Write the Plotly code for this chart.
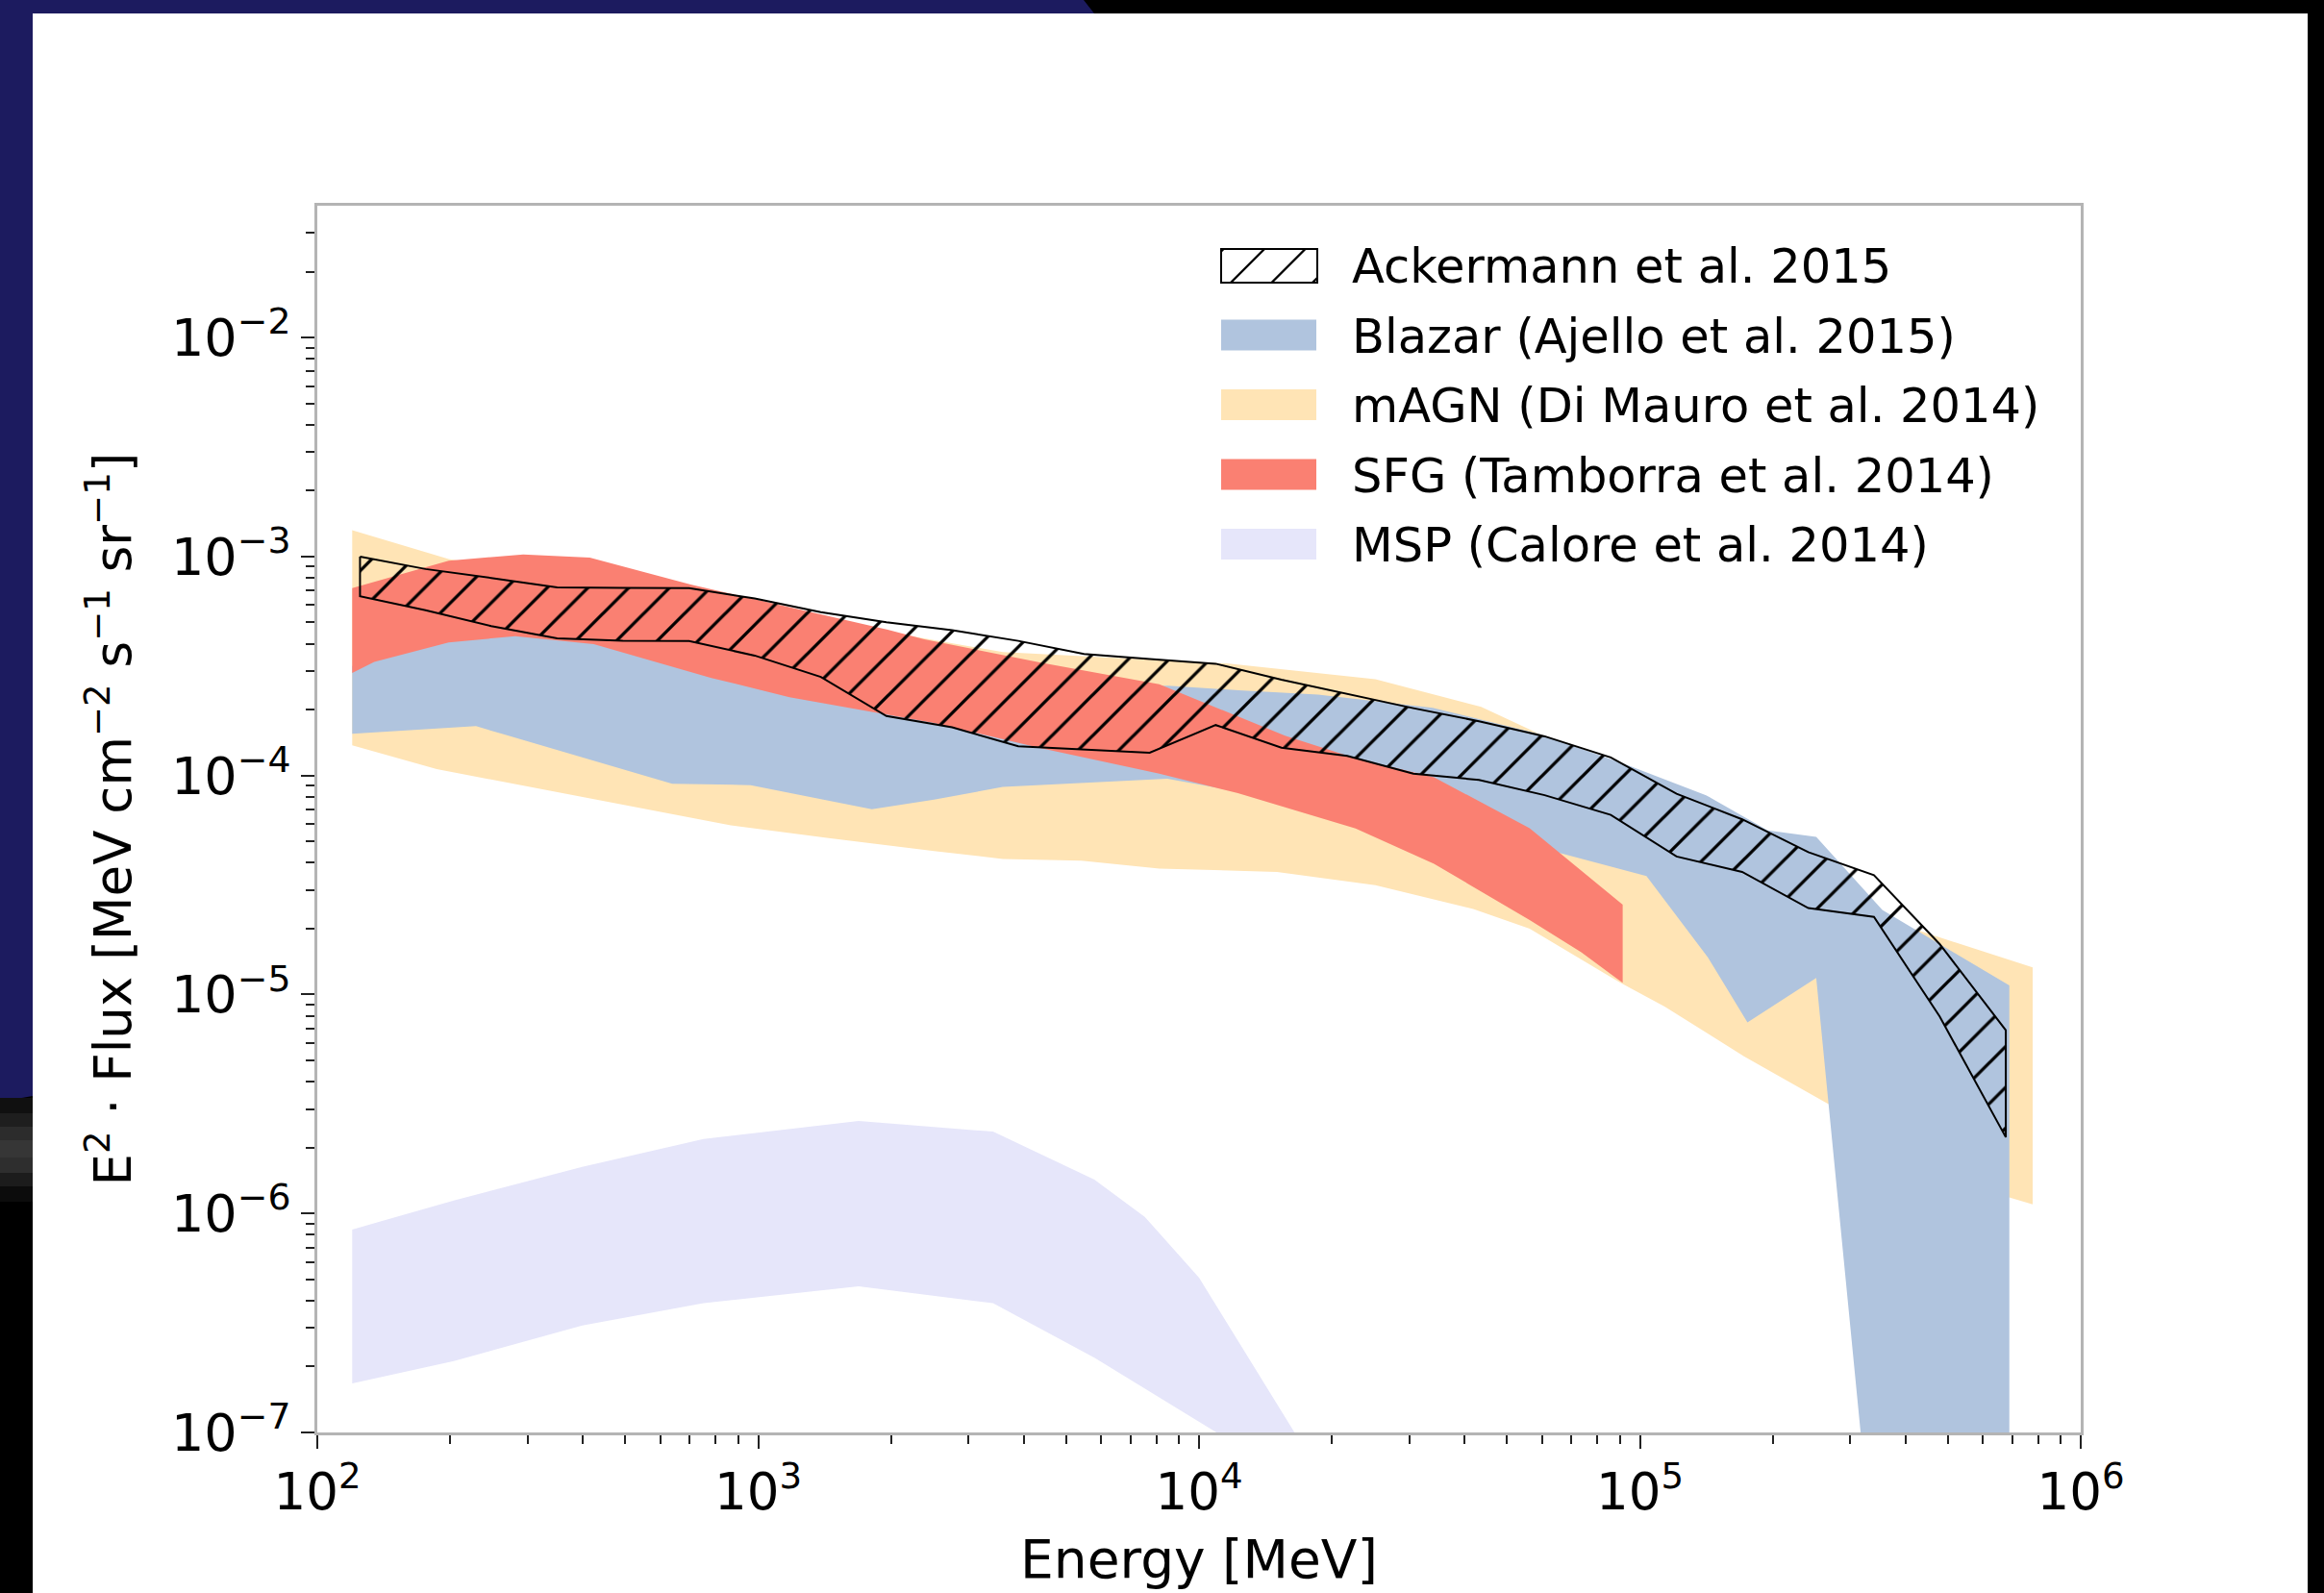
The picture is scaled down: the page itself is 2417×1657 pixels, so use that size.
import plotly.graph_objects as go

# ---------------------------------------------------------------
# Extragalactic gamma-ray background: measured band + source models
# energies in MeV, E^2 * flux in MeV cm^-2 s^-1 sr^-1
# ---------------------------------------------------------------

# Ackermann et al. 2015 (total EGB band, 26 energy bins)
ack_energy = [125, 176, 248, 350, 493, 697, 982, 1387, 1954, 2754, 3890, 5483, 7727,
              10910, 15380, 21680, 30620, 43150, 60810, 85900, 121100, 170600, 241000,
              339600, 478600, 676100]
ack_upper = [1.00e-3, 8.77e-4, 7.98e-4, 7.23e-4, 7.19e-4, 7.18e-4, 6.43e-4, 5.57e-4, 5.01e-4,
             4.61e-4, 4.12e-4, 3.59e-4, 3.40e-4, 3.24e-4, 2.74e-4, 2.36e-4, 2.03e-4, 1.77e-4,
             1.51e-4, 1.21e-4, 8.26e-5, 6.31e-5, 4.47e-5, 3.51e-5, 1.70e-5, 6.87e-6]
ack_lower = [6.59e-4, 5.69e-4, 4.81e-4, 4.23e-4, 4.12e-4, 4.11e-4, 3.53e-4, 2.82e-4, 1.87e-4,
             1.66e-4, 1.36e-4, 1.31e-4, 1.27e-4, 1.70e-4, 1.34e-4, 1.23e-4, 1.02e-4, 9.55e-5,
             8.13e-5, 6.61e-5, 4.27e-5, 3.63e-5, 2.48e-5, 2.26e-5, 7.94e-6, 2.23e-6]

# Blazars (Ajello et al. 2015)
blazar_e_upper = [120, 199.5, 281.8, 426.6, 776.2, 1175, 2512, 8511, 12300, 18620, 33880,
                  58880, 93330, 141300, 195000, 251200, 354800, 467700, 688700]
blazar_upper = [3.16e-4, 4.37e-4, 4.68e-4, 4.27e-4, 3.16e-4, 2.63e-4, 2.40e-4, 2.57e-4, 2.45e-4,
                2.34e-4, 2.04e-4, 1.55e-4, 1.12e-4, 8.13e-5, 5.62e-5, 5.25e-5, 2.43e-5,
                1.75e-5, 1.10e-5]
blazar_e_lower = [120, 229.1, 638.3, 961.6, 1811, 2506, 3589, 8472, 53460, 103500, 142600,
                  175400, 251200, 335000, 688700]
blazar_lower = [1.55e-4, 1.68e-4, 9.18e-5, 9.04e-5, 7.01e-5, 7.76e-5, 8.87e-5, 9.66e-5, 4.95e-5,
                3.47e-5, 1.48e-5, 7.46e-6, 1.19e-5, 3.16e-8, 3.16e-8]

# Misaligned AGN (Di Mauro et al. 2014)
magn_e_upper = [120, 198.6, 871, 2512, 3589, 11540, 25120, 43650, 59020, 100000, 158500,
                281800, 363100, 467700, 778000]
magn_upper = [1.318e-3, 9.73e-4, 6.03e-4, 4.17e-4, 3.66e-4, 3.25e-4, 2.75e-4, 2.06e-4, 1.55e-4,
              1.05e-4, 6.31e-5, 2.82e-5, 2.19e-5, 1.85e-5, 1.33e-5]
magn_e_lower = [120, 186.6, 867, 1445, 2506, 3589, 5408, 8128, 15030, 25120, 41880, 56230,
                90570, 113800, 172200, 265500, 682300, 778000]
magn_lower = [1.374e-4, 1.069e-4, 5.92e-5, 5.18e-5, 4.52e-5, 4.16e-5, 4.08e-5, 3.76e-5, 3.63e-5,
              3.16e-5, 2.46e-5, 2.00e-5, 1.127e-5, 8.81e-6, 5.22e-6, 3.19e-6, 1.19e-6, 1.10e-6]

# Star-forming galaxies (Tamborra et al. 2014)
sfg_e_upper = [120, 198.6, 293.1, 415.0, 706.3, 1968, 2382, 4406, 8128, 11750, 15670, 22650,
               34120, 56230, 91410]
sfg_upper = [7.18e-4, 9.57e-4, 1.023e-3, 9.89e-4, 7.43e-4, 4.63e-4, 4.19e-4, 3.27e-4, 2.61e-4,
             1.93e-4, 1.52e-4, 1.20e-4, 9.82e-5, 5.75e-5, 2.57e-5]
sfg_e_lower = [120, 134.6, 198.6, 281.2, 423.6, 783.4, 1178, 2506, 4406, 8128, 12250, 22650,
               34120, 56230, 73620, 91410]
sfg_lower = [2.94e-4, 3.30e-4, 4.05e-4, 4.33e-4, 3.98e-4, 2.79e-4, 2.28e-4, 1.74e-4, 1.33e-4,
             1.02e-4, 8.30e-5, 5.73e-5, 3.95e-5, 2.19e-5, 1.56e-5, 1.13e-5]

# Millisecond pulsars (Calore et al. 2014)
msp_energy = [120, 204, 399, 752, 1690, 3410, 5790, 7530, 10000, 17800]
msp_upper = [8.45e-7, 1.146e-6, 1.633e-6, 2.188e-6, 2.642e-6, 2.366e-6, 1.426e-6, 9.66e-7,
             5.09e-7, 7.76e-8]
msp_lower = [1.675e-7, 2.118e-7, 3.076e-7, 3.890e-7, 4.645e-7, 3.890e-7, 2.193e-7, 1.585e-7,
             1.117e-7, 5.50e-8]

# axis ticks
x_tick_vals = [1e2, 1e3, 1e4, 1e5, 1e6]
x_tick_text = ["10<sup>2</sup>", "10<sup>3</sup>", "10<sup>4</sup>", "10<sup>5</sup>", "10<sup>6</sup>"]
y_tick_vals = [1e-7, 1e-6, 1e-5, 1e-4, 1e-3, 1e-2]
y_tick_text = ["10<sup>−7</sup>", "10<sup>−6</sup>", "10<sup>−5</sup>", "10<sup>−4</sup>",
               "10<sup>−3</sup>", "10<sup>−2</sup>"]

# ---------------------------------------------------------------
BLUE = "#B0C4DE"      # lightsteelblue
ORANGE = "#FFE4B5"    # moccasin
RED = "#FA8072"       # salmon
LAVENDER = "#E6E6FA"  # lavender
FONT = "DejaVu Sans"

W, H = 2417, 1657
L, R, T, B = 330, 2164, 214, 1490     # plot frame in pixels
PW, PH = R - L, B - T


def px(X):
    return (X - L) / PW


def py(Y):
    return (B - Y) / PH


def band(e_up, up, e_lo, lo):
    """closed polygon: upper edge left->right, lower edge right->left"""
    return list(e_up) + list(e_lo)[::-1], list(up) + list(lo)[::-1]


fig = go.Figure()


def add_band(e_up, up, e_lo, lo, color, name):
    xs, ys = band(e_up, up, e_lo, lo)
    fig.add_trace(go.Scatter(x=xs, y=ys, mode="lines", fill="toself", fillcolor=color,
                             line=dict(width=0, color=color), name=name,
                             showlegend=False, hoverinfo="skip"))


add_band(magn_e_upper, magn_upper, magn_e_lower, magn_lower, ORANGE, "mAGN (Di Mauro et al. 2014)")
add_band(blazar_e_upper, blazar_upper, blazar_e_lower, blazar_lower, BLUE, "Blazar (Ajello et al. 2015)")
add_band(sfg_e_upper, sfg_upper, sfg_e_lower, sfg_lower, RED, "SFG (Tamborra et al. 2014)")
add_band(msp_energy, msp_upper, msp_energy, msp_lower, LAVENDER, "MSP (Calore et al. 2014)")

# hatched measurement band on top
xs, ys = band(ack_energy, ack_upper, ack_energy, ack_lower)
xs.append(xs[0])
ys.append(ys[0])
fig.add_trace(go.Scatter(
    x=xs, y=ys, mode="lines", fill="toself", fillcolor="rgba(0,0,0,0)",
    fillpattern=dict(shape="/", fgcolor="black", bgcolor="rgba(0,0,0,0)",
                     size=30, solidity=0.11, fillmode="replace"),
    line=dict(color="black", width=2), name="Ackermann et al. 2015",
    showlegend=False, hoverinfo="skip"))

# ---------------- slide background ----------------
shapes = []
# white panel
shapes.append(dict(type="rect", xref="paper", yref="paper", layer="below",
                   x0=px(34), x1=px(2400), y0=py(H + 5), y1=py(14),
                   fillcolor="white", line=dict(width=0)))
# navy band along the top and down the left side
navy = "#1c1b5f"
shapes.append(dict(type="path", xref="paper", yref="paper", layer="below",
                   path=(f"M{px(0)},{py(0)} L{px(1127)},{py(0)} L{px(1138)},{py(14)} "
                         f"L{px(34)},{py(14)} L{px(34)},{py(1140)} L{px(0)},{py(1146)} Z"),
                   fillcolor=navy, line=dict(width=0)))
for y0, y1, c in [(1142, 1158, "#101010"), (1158, 1172, "#1e1e1e"), (1172, 1186, "#2c2c2c"),
                  (1186, 1204, "#363636"), (1204, 1220, "#2e2e2e"), (1220, 1234, "#1c1c1c"),
                  (1234, 1250, "#0c0c0c")]:
    shapes.append(dict(type="rect", xref="paper", yref="paper", layer="below",
                       x0=px(0), x1=px(34), y0=py(y1), y1=py(y0),
                       fillcolor=c, line=dict(width=0)))

# ---------------- legend (drawn) ----------------
legend_rows = [
    ("Ackermann et al. 2015", None),
    ("Blazar (Ajello et al. 2015)", BLUE),
    ("mAGN (Di Mauro et al. 2014)", ORANGE),
    ("SFG (Tamborra et al. 2014)", RED),
    ("MSP (Calore et al. 2014)", LAVENDER),
]
row_y0, row_step = 276, 72.5
sw_x0, sw_x1 = 1270, 1369
text_x = 1404
annotations = []
for i, (label, color) in enumerate(legend_rows):
    cy = row_y0 + i * row_step
    if color is None:
        bx0, bx1, by0, by1 = sw_x0, sw_x1 + 1, cy - 17, cy + 18
        shapes.append(dict(type="rect", xref="paper", yref="paper",
                           x0=px(bx0), x1=px(bx1), y0=py(by1), y1=py(by0),
                           fillcolor="white", line=dict(color="black", width=2)))
        h = by1 - by0
        c = 1237.5
        while c < bx1:
            xa, ya, xb, yb = c, by1, c + h, by0
            if xb > bx0:
                if xa < bx0:
                    ya = by1 - (bx0 - c)
                    xa = bx0
                if xb > bx1:
                    yb = by1 - (bx1 - c)
                    xb = bx1
                shapes.append(dict(type="line", xref="paper", yref="paper",
                                   x0=px(xa), y0=py(ya), x1=px(xb), y1=py(yb),
                                   line=dict(color="black", width=2.4)))
            c += 42.5
    else:
        shapes.append(dict(type="rect", xref="paper", yref="paper",
                           x0=px(sw_x0), x1=px(sw_x1), y0=py(cy + 16), y1=py(cy - 16),
                           fillcolor=color, line=dict(width=0)))
    annotations.append(dict(xref="paper", yref="paper", x=px(text_x), y=py(cy + 1),
                            xanchor="left", yanchor="middle", showarrow=False,
                            text=label, font=dict(family=FONT, size=49.5, color="black")))

frame = "#b4b4b4"
fig.update_layout(
    width=W, height=H,
    margin=dict(l=L, r=W - R, t=T, b=H - B, pad=0),
    paper_bgcolor="black", plot_bgcolor="white",
    showlegend=False,
    shapes=shapes, annotations=annotations,
    font=dict(family=FONT, color="black"),
    xaxis=dict(
        type="log", range=[2, 6], autorange=False,
        showgrid=False, zeroline=False,
        showline=True, linecolor=frame, linewidth=2.5, mirror=True,
        ticks="outside", ticklen=14, tickwidth=2, tickcolor="#222222",
        tickmode="array", tickvals=x_tick_vals, ticktext=x_tick_text,
        tickfont=dict(family=FONT, size=53, color="black"),
        minor=dict(ticks="outside", ticklen=9, tickwidth=1.5, tickcolor="#222222",
                   tickmode="array",
                   tickvals=[m * 10 ** d for d in range(2, 6) for m in range(2, 10)],
                   showgrid=False),
        title=dict(text="Energy [MeV]", font=dict(family=FONT, size=55, color="black"),
                   standoff=22),
    ),
    yaxis=dict(
        type="log", range=[-7, -1.398], autorange=False,
        showgrid=False, zeroline=False,
        showline=True, linecolor=frame, linewidth=2.5, mirror=True,
        ticks="outside", ticklen=14, tickwidth=2, tickcolor="#222222",
        tickmode="array", tickvals=y_tick_vals, ticktext=y_tick_text,
        tickfont=dict(family=FONT, size=54, color="black"),
        minor=dict(ticks="outside", ticklen=9, tickwidth=1.5, tickcolor="#222222",
                   tickmode="array",
                   tickvals=[m * 10.0 ** d for d in range(-7, -1) for m in range(2, 10)
                             if m * 10.0 ** d < 0.04],
                   showgrid=False),
        title=dict(text="E<sup>2</sup> · Flux [MeV cm<sup>−2</sup> s<sup>−1</sup> sr<sup>−1</sup>]",
                   font=dict(family=FONT, size=53, color="black"), standoff=25),
    ),
)

fig.write_html("out.html")
